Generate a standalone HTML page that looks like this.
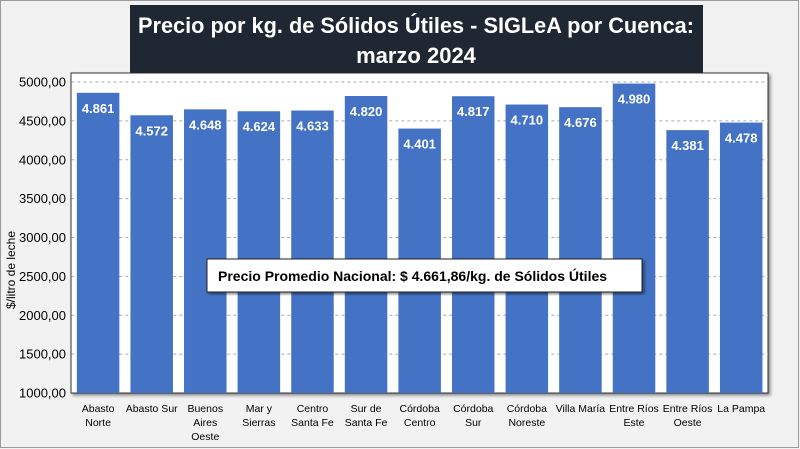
<!DOCTYPE html>
<html><head><meta charset="utf-8"><style>
html,body{margin:0;padding:0;background:#f2f2f2;}
svg{display:block;font-family:"Liberation Sans",sans-serif;}
</style></head><body>
<svg id="c" width="800" height="449" xmlns="http://www.w3.org/2000/svg">
<defs><filter id="sh" x="-5%" y="-5%" width="110%" height="115%"><feDropShadow dx="2" dy="2" stdDeviation="1.5" flood-color="#000" flood-opacity="0.45"/></filter></defs>
<rect x="0.5" y="0.5" width="798" height="447" fill="#f2f2f2" stroke="#9a9a9a"/>
<rect x="71" y="73" width="697" height="320" fill="#fff" stroke="#333" stroke-width="1" filter="url(#sh)"/>
<g id="grid"></g><g id="bars"></g><g id="ylab"></g><g id="xlab"></g>
<rect x="130" y="5" width="573" height="68" fill="#1f2733"/>
<text x="416" y="33" text-anchor="middle" fill="#fff" font-size="22" font-weight="bold" textLength="556" lengthAdjust="spacingAndGlyphs">Precio por kg. de Sólidos Útiles - SIGLeA por Cuenca:</text>
<text x="416" y="63" text-anchor="middle" fill="#fff" font-size="22" font-weight="bold">marzo 2024</text>
<text transform="translate(15,270) rotate(-90)" text-anchor="middle" font-size="12" fill="#000">$/litro de leche</text>
<rect x="207" y="259" width="435" height="33" fill="#fff" stroke="#222" filter="url(#sh)"/>
<text x="218" y="281" font-size="14" font-weight="bold" fill="#000">Precio Promedio Nacional: $ 4.661,86/kg. de Sólidos Útiles</text>
</svg>
<script>
const categories=[["Abasto","Norte"],["Abasto Sur"],["Buenos","Aires","Oeste"],["Mar y","Sierras"],["Centro","Santa Fe"],["Sur de","Santa Fe"],["Córdoba","Centro"],["Córdoba","Sur"],["Córdoba","Noreste"],["Villa María"],["Entre Ríos","Este"],["Entre Ríos","Oeste"],["La Pampa"]];
const values=[4861,4572,4648,4624,4633,4820,4401,4817,4710,4676,4980,4381,4478];
const valueLabels=["4.861","4.572","4.648","4.624","4.633","4.820","4.401","4.817","4.710","4.676","4.980","4.381","4.478"];
const yTicks=[1000,1500,2000,2500,3000,3500,4000,4500,5000];
const yTickLabels=["1000,00","1500,00","2000,00","2500,00","3000,00","3500,00","4000,00","4500,00","5000,00"];
const NS="http://www.w3.org/2000/svg";
const X0=71.3,X1=768,Y0=393,Y1=82,VMIN=1000,VMAX=5000;
const band=(X1-X0)/categories.length;
function y(v){return Y0-(v-VMIN)/(VMAX-VMIN)*(Y0-Y1);}
function xc(i){return X0+band*(i+0.5);}
function mk(t,a,p){const e=document.createElementNS(NS,t);for(const k in a)e.setAttribute(k,a[k]);p.appendChild(e);return e;}
const grid=document.getElementById('grid'),bars=document.getElementById('bars'),yl=document.getElementById('ylab'),xl=document.getElementById('xlab');
yTicks.forEach((t,i)=>{
  if(t>VMIN){const l=mk('line',{x1:X0,x2:X1,y1:y(t),y2:y(t),stroke:'#aaa','stroke-dasharray':'3,3'},grid);
  
  }
  const tx=mk('text',{x:66,y:y(t)+4.5,'text-anchor':'end','font-size':'13',fill:'#000'},yl);
  tx.textContent=yTickLabels[i];
  
  
});
const bw=42.5;
values.forEach((v,i)=>{
  const r=mk('rect',{x:xc(i)-bw/2,y:y(v),width:bw,height:Y0-y(v),fill:'#4472c4'},bars);
  
  
  const t=mk('text',{x:xc(i),y:y(v)+20,'text-anchor':'middle','font-size':'13','font-weight':'bold',fill:'#fff'},bars);
  t.textContent=valueLabels[i];
  
  
  categories[i].forEach((s,j)=>{
    const c=mk('text',{x:xc(i),y:412+j*14,'text-anchor':'middle','font-size':'10.5',fill:'#000'},xl);
    c.textContent=s;
    
    
  });
});
</script>
</body></html>
